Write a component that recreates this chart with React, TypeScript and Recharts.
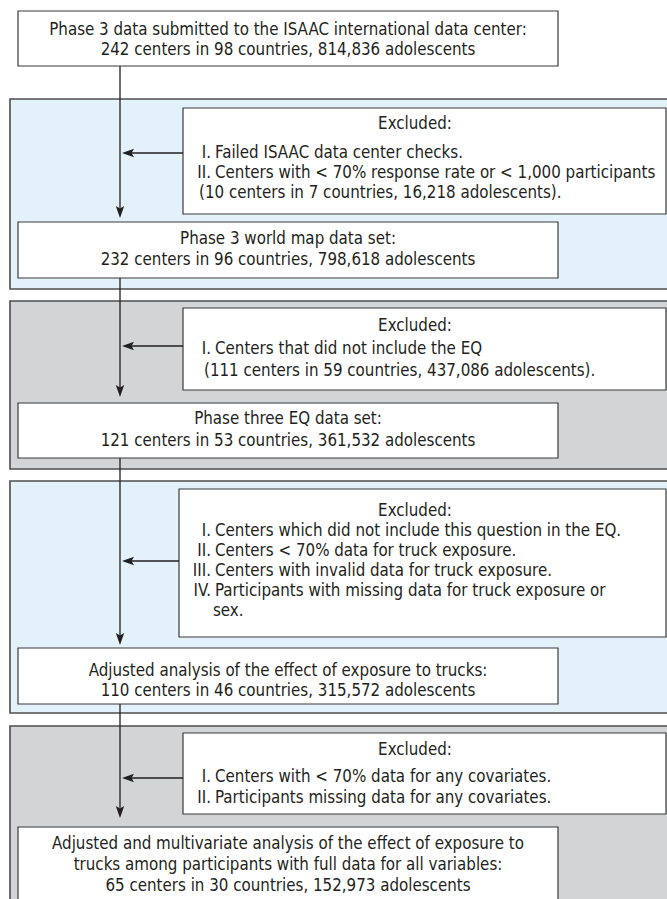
import { ComposedChart, XAxis, YAxis, Scatter, ReferenceArea, ReferenceLine } from "recharts";

// ---- content ----
const stageText: string[][] = [
  ["Phase 3 data submitted to the ISAAC international data center:", "242 centers in 98 countries, 814,836 adolescents"],
  ["Phase 3 world map data set:", "232 centers in 96 countries, 798,618 adolescents"],
  ["Phase three EQ data set:", "121 centers in 53 countries, 361,532 adolescents"],
  ["Adjusted analysis of the effect of exposure to trucks:", "110 centers in 46 countries, 315,572 adolescents"],
  [
    "Adjusted and multivariate analysis of the effect of exposure to",
    "trucks among participants with full data for all variables:",
    "65 centers in 30 countries, 152,973 adolescents",
  ],
];

const exclusionTitle = "Excluded:";

// [numeral, text]; an empty numeral means a continuation line
const exclusionItems: [string, string][][] = [
  [
    ["I.", "Failed ISAAC data center checks."],
    ["II.", "Centers with < 70% response rate or < 1,000 participants"],
    ["", "(10 centers in 7 countries, 16,218 adolescents)."],
  ],
  [
    ["I.", "Centers that did not include the EQ"],
    ["", "(111 centers in 59 countries, 437,086 adolescents)."],
  ],
  [
    ["I.", "Centers which did not include this question in the EQ."],
    ["II.", "Centers < 70% data for truck exposure."],
    ["III.", "Centers with invalid data for truck exposure."],
    ["IV.", "Participants with missing data for truck exposure or"],
    ["", "sex."],
  ],
  [
    ["I.", "Centers with < 70% data for any covariates."],
    ["II.", "Participants missing data for any covariates."],
  ],
];

// ---- layout (pixel units of the drawing) ----
const W = 667;
const H = 899;
const FONT = "'DejaVu Sans Condensed', 'DejaVu Sans', sans-serif";
const FONT_SIZE = 16.8;
const INK = "#231f20";
const BLUE = "#e3f2fa";
const GRAY = "#d3d4d6";

const SPINE_X = 120;
const STAGE_X = [18, 558];
const STAGE_Y = [[11, 66], [222, 278], [403, 458], [648, 704], [827, 915]];
const STAGE_TEXT_Y = [[29, 49], [238, 259], [418, 440], [670, 690], [843, 864, 885]];
const PANEL_Y = [[99, 289], [301, 469], [481, 713], [726, 930]];
const PANEL_X = [10, 669];
const EXCL_X1 = [183, 183, 179, 183];
const EXCL_X2 = 666;
const EXCL_Y = [[108, 214], [308, 390], [489, 637], [733, 814]];
const EXCL_TITLE_X = 415;
const EXCL_TEXT_Y = [[123, 152, 172, 192], [325, 348, 370], [510, 530, 550, 570, 590, 610], [749, 776, 797]];
const NUM_X = 211;
const ITEM_X = 215;
const CONT_X = [199, 204, 213, 215];
const SIDE_ARROW_Y = [153, 346, 561, 778];
const DOWN_TIP_Y = [218, 397, 645, 818];

type Label = { x: number; y: number; text: string; anchor: string };
type Head = { x: number; y: number; dir: string };

const labels: Label[] = [];
stageText.forEach((lines, i) =>
  lines.forEach((t, j) => labels.push({ x: (STAGE_X[0] + STAGE_X[1]) / 2, y: STAGE_TEXT_Y[i][j], text: t, anchor: "middle" }))
);
exclusionItems.forEach((items, i) => {
  labels.push({ x: EXCL_TITLE_X, y: EXCL_TEXT_Y[i][0], text: exclusionTitle, anchor: "middle" });
  items.forEach(([num, t], j) => {
    const y = EXCL_TEXT_Y[i][j + 1];
    if (num) {
      labels.push({ x: NUM_X, y, text: num, anchor: "end" });
      labels.push({ x: ITEM_X, y, text: t, anchor: "start" });
    } else {
      labels.push({ x: CONT_X[i], y, text: t, anchor: "start" });
    }
  });
});

const heads: Head[] = [
  ...DOWN_TIP_Y.map((y) => ({ x: SPINE_X, y, dir: "down" })),
  ...SIDE_ARROW_Y.map((y) => ({ x: SPINE_X + 2, y, dir: "left" })),
];

const TextMark = (p: any) => (
  <text
    x={p.cx}
    y={p.cy}
    dy="0.36em"
    textAnchor={p.payload.anchor}
    fontFamily={FONT}
    fontSize={FONT_SIZE}
    fill={INK}
  >
    {p.payload.text}
  </text>
);

const HeadMark = (p: any) => {
  const rot = p.payload.dir === "down" ? 90 : 180;
  return (
    <polygon
      points="0,0 -12,-4.2 -9.5,0 -12,4.2"
      fill={INK}
      transform={`translate(${p.cx},${p.cy}) rotate(${rot})`}
    />
  );
};

export default function App() {
  const segs: { x: number; y: number }[][] = [
    [{ x: SPINE_X, y: STAGE_Y[0][1] }, { x: SPINE_X, y: DOWN_TIP_Y[0] - 4 }],
    [{ x: SPINE_X, y: STAGE_Y[1][1] }, { x: SPINE_X, y: DOWN_TIP_Y[1] - 4 }],
    [{ x: SPINE_X, y: STAGE_Y[2][1] }, { x: SPINE_X, y: DOWN_TIP_Y[2] - 4 }],
    [{ x: SPINE_X, y: STAGE_Y[3][1] }, { x: SPINE_X, y: DOWN_TIP_Y[3] - 4 }],
    ...SIDE_ARROW_Y.map((y, i) => [{ x: EXCL_X1[i], y }, { x: SPINE_X + 6, y }]),
  ];

  return (
    <div style={{ width: W, height: H }}>
      <style>{"body{margin:0}"}</style>
      <ComposedChart width={W} height={H} margin={{ top: 0, right: 0, bottom: 0, left: 0 }}>
        <XAxis type="number" dataKey="x" domain={[0, W]} hide allowDataOverflow />
        <YAxis type="number" dataKey="y" domain={[0, H]} reversed hide allowDataOverflow />

        {PANEL_Y.map(([y1, y2], i) => (
          <ReferenceArea
            key={`panel${i}`}
            x1={PANEL_X[0]}
            x2={PANEL_X[1]}
            y1={y1}
            y2={y2}
            fill={i % 2 === 0 ? BLUE : GRAY}
            fillOpacity={1}
            stroke="#4d4d4f"
            strokeWidth={1.6}
            ifOverflow="visible"
          />
        ))}

        {STAGE_Y.map(([y1, y2], i) => (
          <ReferenceArea
            key={`stage${i}`}
            x1={STAGE_X[0]}
            x2={STAGE_X[1]}
            y1={y1}
            y2={y2}
            fill="#ffffff"
            fillOpacity={1}
            stroke="#3a3a3c"
            strokeWidth={1.2}
            ifOverflow="visible"
          />
        ))}

        {EXCL_Y.map(([y1, y2], i) => (
          <ReferenceArea
            key={`excl${i}`}
            x1={EXCL_X1[i]}
            x2={EXCL_X2}
            y1={y1}
            y2={y2}
            fill="#ffffff"
            fillOpacity={1}
            stroke="#3a3a3c"
            strokeWidth={1.2}
            ifOverflow="visible"
          />
        ))}

        {segs.map((s, i) => (
          <ReferenceLine key={`seg${i}`} segment={s} stroke={INK} strokeWidth={1.3} ifOverflow="visible" />
        ))}

        <Scatter data={heads} shape={HeadMark} isAnimationActive={false} />
        <Scatter data={labels} shape={TextMark} isAnimationActive={false} />
      </ComposedChart>
    </div>
  );
}
